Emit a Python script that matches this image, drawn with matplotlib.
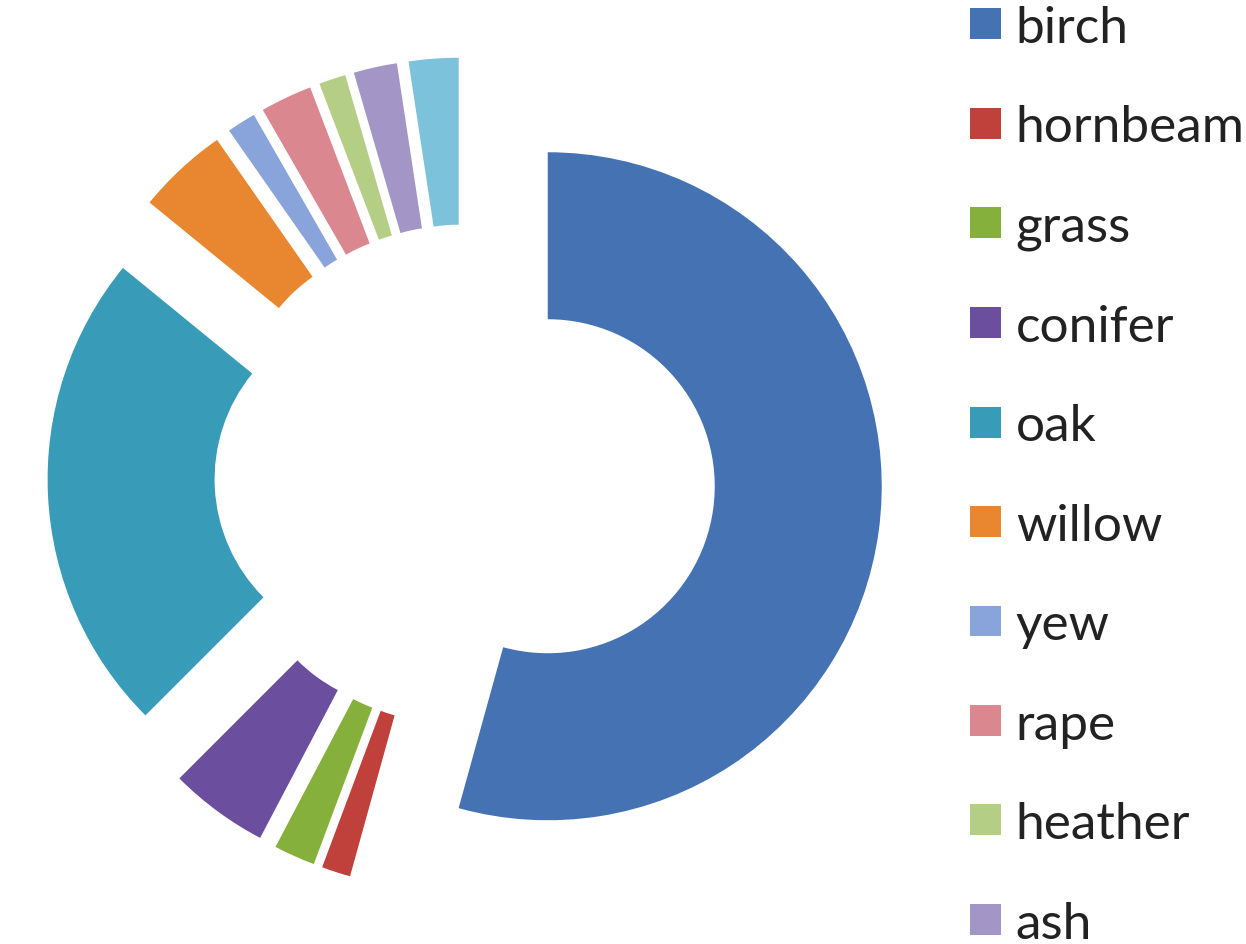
import matplotlib
matplotlib.use("Agg")
import matplotlib.pyplot as plt
from matplotlib.patches import Patch

categories = ["birch", "hornbeam", "grass", "conifer", "oak", "willow",
              "yew", "rape", "heather", "ash", ""]
values = [54.3, 1.4, 2.0, 4.8, 23.4, 4.4, 1.4, 2.5, 1.3, 2.1, 2.4]
colors = ["#4472B2", "#C0413B", "#86B03C", "#6C4E9E", "#389BB8", "#E8872F",
          "#88A4DA", "#DA8790", "#B5CE86", "#A395C6", "#7CC2DA"]
legend_labels = categories[:10]

plt.rcParams['font.family'] = ['Lato', 'DejaVu Sans']

fig = plt.figure(figsize=(12.46, 9.45), dpi=100)
ax = fig.add_axes([0, 0, 1, 1])
ax.pie(values, colors=colors, startangle=90, counterclock=False,
       explode=[0.25] * len(values),
       wedgeprops=dict(width=0.5, linewidth=0))
ax.set_xlim(-465 / 334, (1246 - 465) / 334)
ax.set_ylim(-(945 - 476) / 334, 476 / 334)
ax.set_aspect('auto')
ax.axis('off')

handles = [Patch(facecolor=c, edgecolor='none') for c in colors[:10]]
leg = fig.legend(handles, legend_labels, loc='upper left',
                 bbox_to_anchor=(970 / 1246, 1 - 6 / 945),
                 frameon=False, fontsize=37, handlelength=0.6,
                 handleheight=0.55, handletextpad=0.29, labelspacing=1.04,
                 borderaxespad=0, borderpad=0)
for t in leg.get_texts():
    t.set_color('#222222')

fig.savefig("out.png", dpi=100)
